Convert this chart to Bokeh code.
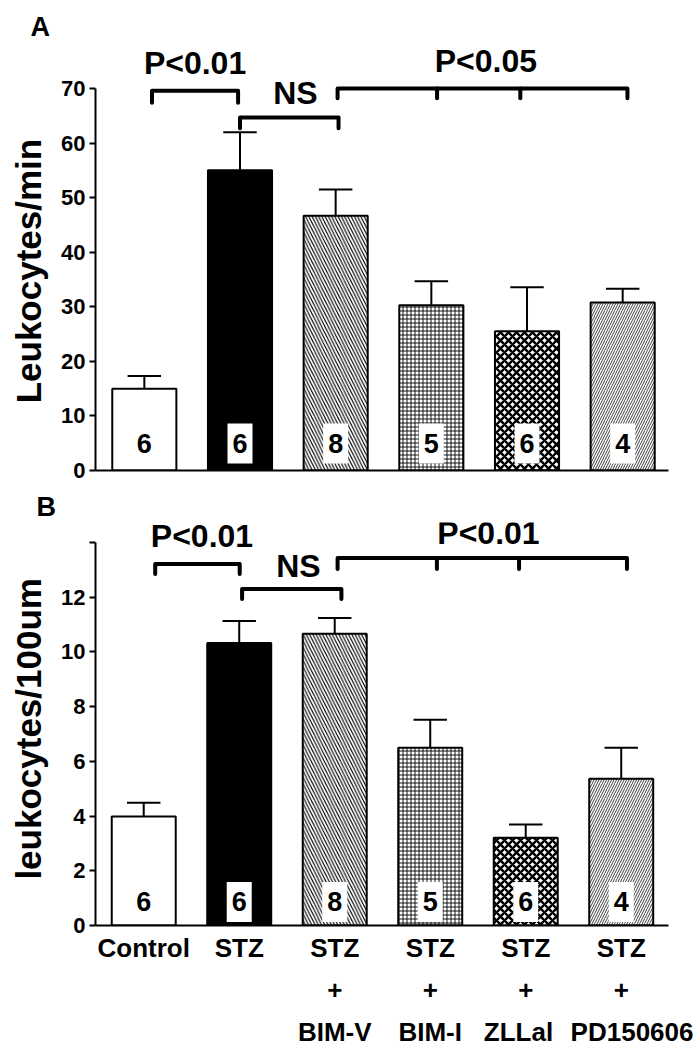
from bokeh.plotting import figure
from bokeh.layouts import column
from bokeh.models import Range1d, FixedTicker, Title, ColumnDataSource
from bokeh.core.properties import value
from bokeh.embed import file_html
from bokeh.resources import INLINE

# ---------------- data ----------------
groups = ["Control", "STZ", "STZ+BIM-V", "STZ+BIM-I", "STZ+ZLLal", "STZ+PD150606"]
label_row1 = ["Control", "STZ", "STZ", "STZ", "STZ", "STZ"]
label_row2 = ["", "", "+", "+", "+", "+"]
label_row3 = ["", "", "BIM-V", "BIM-I", "ZLLal", "PD150606"]
counts = ["6", "6", "8", "5", "6", "4"]

a_mean = [15.0, 55.0, 46.7, 30.3, 25.5, 30.8]
a_sem = [2.3, 7.0, 4.8, 4.4, 8.1, 2.5]
b_mean = [3.98, 10.33, 10.66, 6.5, 3.21, 5.36]
b_sem = [0.51, 0.80, 0.58, 1.02, 0.48, 1.14]

a_ticks = [0, 10, 20, 30, 40, 50, 60, 70]
b_ticks = [0, 2, 4, 6, 8, 10, 12, 14]

a_sig_text = ["P<0.01", "NS", "P<0.05"]
b_sig_text = ["P<0.01", "NS", "P<0.01"]

# ---------------- styles ----------------
FONT = "Liberation Sans"
NB = "\u00a0"
fills = ["white", "black", "white", "white", "white", "white"]
hatches = [" ", " ", "\\", "+", "x", "/"]
hatch_scales = [6, 6, 6.5, 4, 8, 5]
hatch_weights = [1, 1, 1.1, 0.9, 2.4, 0.75]
# horizontal nudges (in non-breaking spaces) for the last label row
row3_lead = [0, 0, 0, 0, 0, 3]
row3_trail = [0, 0, 0, 0, 2, 0]
idx = list(range(len(groups)))


def panel(mean, sem, ticks, width, height, bl, br, bt, bb, xr, yr, ybounds,
          ylabel, count_y, brackets, sig_text, sig_pos, letter, letter_off,
          tick_hide_last=False, xlabels=None):
    p = figure(width=width, height=height, output_backend="svg",
               toolbar_location=None, x_range=Range1d(*xr), y_range=Range1d(*yr),
               min_border_left=bl, min_border_right=br, min_border_top=bt,
               min_border_bottom=bb)
    p.outline_line_color = None
    p.grid.grid_line_color = None
    p.background_fill_color = "white"

    p.title = Title(text=letter, align="left", offset=letter_off,
                    text_font=FONT, text_font_style="bold",
                    text_font_size="27px", text_color="black", standoff=2)

    src = ColumnDataSource(dict(x=idx, top=mean, fill=fills, hatch=hatches,
                                hs=hatch_scales, hw=hatch_weights))
    p.vbar(x="x", top="top", width=0.67, bottom=0, source=src,
           fill_color="fill", line_color="black", line_width=2,
           hatch_pattern="hatch", hatch_scale="hs", hatch_weight="hw",
           hatch_color="black")
    ends = [m + s for m, s in zip(mean, sem)]
    p.segment(x0=idx, y0=mean, x1=idx, y1=ends, line_color="black", line_width=2)
    p.segment(x0=[i - 0.175 for i in idx], y0=ends, x1=[i + 0.175 for i in idx],
              y1=ends, line_color="black", line_width=2)

    cy = [count_y] * len(idx)
    p.rect(x=idx, y=cy, width=25, height=40, width_units="screen",
           height_units="screen", fill_color="white", line_color=None)
    p.text(x=idx, y=cy, text=counts, text_font=value(FONT),
           text_font_style="bold", text_font_size="27px",
           text_align="center", text_baseline="middle", text_color="black")

    xs, ys = [], []
    for bx, by, leg in brackets:
        xs.append([bx[0], bx[0], bx[-1], bx[-1]])
        ys.append([leg, by, by, leg])
        for mx in bx[1:-1]:
            xs.append([mx, mx])
            ys.append([by, leg])
    p.multi_line(xs=xs, ys=ys, line_color="black", line_width=4,
                 line_cap="round", line_join="round")
    p.text(x=[s[0] for s in sig_pos], y=[s[1] for s in sig_pos], text=sig_text,
           text_font=value(FONT), text_font_style="bold", text_font_size="32px",
           text_align="center", text_baseline="middle", text_color="black")

    ya = p.yaxis[0]
    ya.ticker = FixedTicker(ticks=ticks)
    ya.bounds = ybounds
    if tick_hide_last:
        ya.major_label_overrides = {ticks[-1]: ""}
    ya.axis_line_width = 2
    ya.axis_line_color = "black"
    ya.major_tick_line_width = 2
    ya.major_tick_line_color = "black"
    ya.major_tick_out = 6
    ya.major_tick_in = 0
    ya.minor_tick_line_color = None
    ya.major_label_text_font = FONT
    ya.major_label_text_font_style = "bold"
    ya.major_label_text_font_size = "22px"
    ya.major_label_text_color = "black"
    ya.major_label_standoff = 4
    ya.axis_label = ylabel
    ya.axis_label_text_font = FONT
    ya.axis_label_text_font_style = "bold"
    ya.axis_label_text_font_size = "35px"
    ya.axis_label_text_color = "black"
    ya.axis_label_standoff = 10

    xa = p.xaxis[0]
    xa.axis_line_width = 2
    xa.axis_line_color = "black"
    xa.major_tick_line_color = None
    xa.minor_tick_line_color = None
    if xlabels is None:
        xa.ticker = FixedTicker(ticks=[])
    else:
        xa.ticker = FixedTicker(ticks=idx)
        xa.major_label_overrides = {i: t for i, t in zip(idx, xlabels)}
        xa.major_label_text_font = FONT
        xa.major_label_text_font_style = "bold"
        xa.major_label_text_font_size = "26px"
        xa.major_label_text_color = "black"
        xa.major_label_text_line_height = 1.40
        xa.major_label_standoff = 1
    return p


xlab = []
for r1, r2, r3, ld, tr in zip(label_row1, label_row2, label_row3, row3_lead, row3_trail):
    r3s = NB * ld + r3 + NB * tr if r3 else r3
    xlab.append("\n".join([t for t in (r1, r2, r3s) if t]))

# Panel A
pa = panel(a_mean, a_sem, a_ticks, 698, 488, 95, 28, 42, 18,
           (-0.5104, 5.479), (0, 78.43), (0, 70), "Leukocytes/min" + NB * 3, 4.95,
           [((0.08, 0.98), 69.6, 67.4), ((1.0, 2.03), 64.7, 62.7),
            ((2.02, 3.06, 3.93, 5.05), 70.0, 68.2)],
           a_sig_text, [(0.53, 74.6), (1.58, 69.1), (3.57, 75.1)],
           "A", -65)

# Panel B
pb = panel(b_mean, b_sem, b_ticks, 698, 561, 92, 30, 34, 124,
           (-0.505, 5.495), (0, 14.73), (0, 14), "leukocytes/100um" + NB, 0.86,
           [((0.12, 1.005), 13.21, 12.85), ((1.03, 2.07), 12.30, 11.93),
            ((2.03, 3.07, 3.93, 5.06), 13.43, 13.03)],
           b_sig_text, [(0.61, 14.23), (1.62, 13.14), (3.61, 14.35)],
           "B", -59, tick_hide_last=True, xlabels=xlab)

layout = column(pa, pb, spacing=0)
open("out.html", "w").write(file_html(layout, INLINE))
